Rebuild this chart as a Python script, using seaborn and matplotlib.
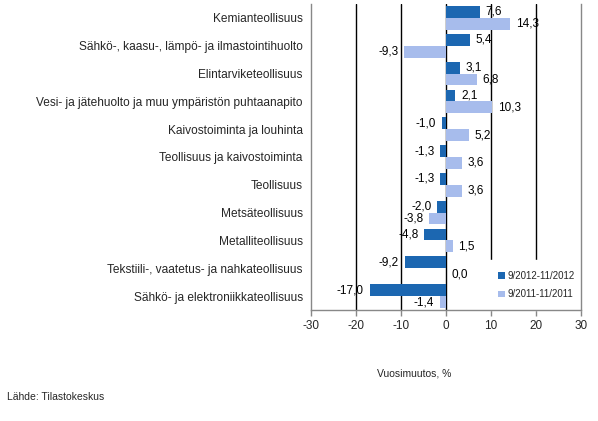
import matplotlib
matplotlib.use("Agg")
import matplotlib.pyplot as plt
import seaborn as sns
import pandas as pd

categories = ["Kemianteollisuus",
              "Sähkö-, kaasu-, lämpö- ja ilmastointihuolto",
              "Elintarviketeollisuus",
              "Vesi- ja jätehuolto ja muu ympäristön puhtaanapito",
              "Kaivostoiminta ja louhinta",
              "Teollisuus ja kaivostoiminta",
              "Teollisuus",
              "Metsäteollisuus",
              "Metalliteollisuus",
              "Tekstiili-, vaatetus- ja nahkateollisuus",
              "Sähkö- ja elektroniikkateollisuus"]
series_names = ["9/2012-11/2012", "9/2011-11/2011"]
values_2012 = [7.6, 5.4, 3.1, 2.1, -1.0, -1.3, -1.3, -2.0, -4.8, -9.2, -17.0]
values_2011 = [14.3, -9.3, 6.8, 10.3, 5.2, 3.6, 3.6, -3.8, 1.5, 0.0, -1.4]
xticks = [-30, -20, -10, 0, 10, 20, 30]

sns.set_theme(style="white")
plt.rcParams['font.family'] = ['Liberation Sans', 'DejaVu Sans']

df = pd.DataFrame({
    "cat": categories * 2,
    "val": values_2012 + values_2011,
    "series": [series_names[0]] * len(categories) + [series_names[1]] * len(categories),
})

fig = plt.figure(figsize=(5.98, 4.21), dpi=100)
ax = fig.add_axes([311/598, 1 - 310/421, 270/598, 306/421])

for x in [-20, -10, 0, 10, 20]:
    ax.axvline(x, color="black", lw=1, zorder=0.5)

sns.barplot(data=df, x="val", y="cat", hue="series", orient="h",
            palette=["#1C67B1", "#A7BCEC"], saturation=1, width=0.85,
            linewidth=0, ax=ax, zorder=2)

for cont, vals in zip(ax.containers, [values_2012, values_2011]):
    ax.bar_label(cont, labels=[f"{v:.1f}".replace(".", ",") for v in vals],
                 padding=4, fontsize=8.5, color="black")

ax.set_xlim(-30, 30)
ax.set_xticks(xticks)
ax.set_xticklabels([str(t) for t in xticks], fontsize=8.5)
ax.set_xlabel("")
ax.set_ylabel("")
ax.tick_params(axis="y", length=0, labelsize=8.6, pad=6)
ax.tick_params(axis="x", length=4, width=1, color="#888888", direction="out", pad=3, bottom=True)

for s in ["left", "right", "bottom"]:
    ax.spines[s].set_color("#888888")
    ax.spines[s].set_linewidth(1)
    ax.spines[s].set_zorder(6)
ax.spines["top"].set_visible(False)

leg = ax.legend(loc="lower left", bbox_to_anchor=(0.652, 0.0), frameon=True,
                fontsize=7, handlelength=0.7, handleheight=0.7, handletextpad=0.3,
                labelspacing=0.9, borderaxespad=0, borderpad=1.1)
leg.get_frame().set_facecolor("white")
leg.get_frame().set_edgecolor("white")
leg.get_frame().set_alpha(1)
leg.set_zorder(5)

fig.text(451/598, 1 - 373/421, "Vuosimuutos, %", ha="right", va="center", fontsize=7.5)
fig.text(7/598, 1 - 397/421, "Lähde: Tilastokeskus", ha="left", va="center", fontsize=7.5)

fig.savefig("out.png", dpi=100)
